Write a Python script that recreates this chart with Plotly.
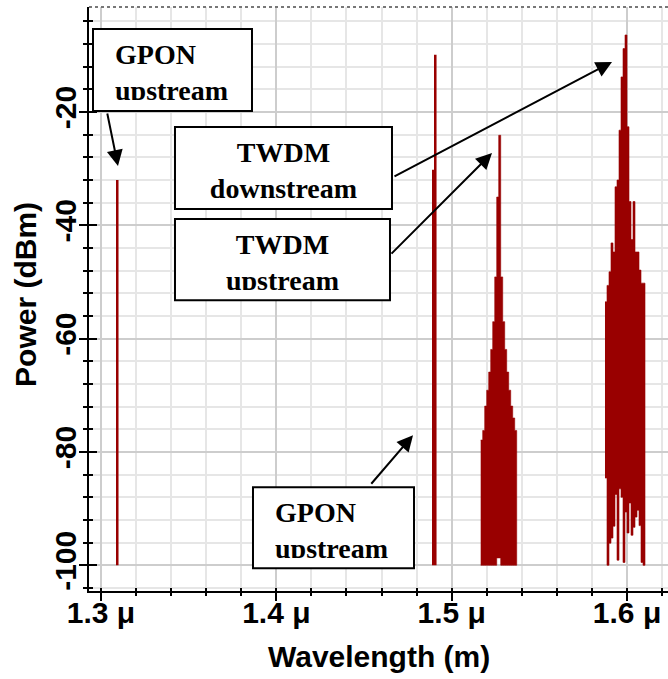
import numpy as np
import plotly.graph_objects as go

# ---------------- data (wavelength in micrometres, power in dBm) ----------------
# narrow single lines (GPON upstream 1.31, GPON downstream pair near 1.49)
line_wl = [1.30952, 1.48945, 1.49088]
line_peak = [-32.0, -30.2, -9.9]
line_floor = [-100.0, -100.0, -100.0]

# TWDM upstream band (~1.527 um)
up_wl = [1.51711, 1.51825, 1.51939, 1.52053, 1.52167, 1.52281, 1.52396, 1.52510, 1.52624,
         1.52738, 1.52852, 1.52966, 1.53080, 1.53194, 1.53308, 1.53422, 1.53536, 1.53650]
up_peak = [-77.9, -76.2, -71.9, -69.1, -65.9, -61.9, -57.0, -49.1, -35.0,
           -24.1, -49.1, -57.0, -61.9, -65.9, -69.1, -71.9, -74.0, -76.2]
up_floor = [-100.0, -100.0, -100.0, -100.0, -100.0, -100.0, -100.0, -100.0, -98.7,
            -98.7, -100.0, -100.0, -100.0, -100.0, -100.0, -100.0, -100.0, -100.0]

# TWDM downstream band (~1.6 um)
down_wl = [1.58799, 1.58913, 1.59027, 1.59141, 1.59255, 1.59370, 1.59484, 1.59598, 1.59712, 1.59826,
           1.59940, 1.60054, 1.60168, 1.60282, 1.60396, 1.60510, 1.60625, 1.60739, 1.60853, 1.60967]
down_peak = [-53.5, -50.6, -48.2, -43.1, -44.7, -33.2, -32.0, -23.2, -13.8, -8.8,
             -6.4, -22.6, -35.8, -42.5, -35.8, -44.7, -44.7, -47.9, -50.2, -50.2]
down_floor = [-84.6, -100.0, -96.1, -95.2, -93.1, -87.5, -99.1, -86.5, -88.0, -99.5,
              -90.6, -94.3, -89.0, -94.7, -93.3, -91.5, -90.3, -93.0, -99.5, -100.0]

x_tickvals = [1.3, 1.4, 1.5, 1.6]
x_ticktext = ["1.3 μ", "1.4 μ", "1.5 μ", "1.6 μ"]
y_tickvals = [-100, -80, -60, -40, -20]
y_ticktext = ["-100", "-80", "-60", "-40", "-20"]

labels = ["GPON<br>upstream", "TWDM<br>downstream", "TWDM<br>upstream", "GPON<br>upstream"]

# ---------------- styling ----------------
RED = "#990000"
AX_FONT = dict(family="Liberation Sans, Arial, sans-serif", size=30, color="black", weight="bold")
BOX_FONT = dict(family="Liberation Serif, Times New Roman, serif", size=28, color="black", weight="bold")
XR = [1.29316, 1.62335]
YR = [-104.54, -1.46]
BIN = 0.0011406  # spectral bin width of the analyser trace

fig = go.Figure()

# single narrow lines as bars
lp = np.array(line_peak)
lf = np.array(line_floor)
fig.add_trace(go.Bar(x=line_wl, y=lp - lf, base=lf, width=0.00095,
                     marker=dict(color=RED, line=dict(width=0)),
                     showlegend=False, hoverinfo="skip"))


def add_band(wl, peak, floor):
    """Filled step outline of a dense spectral band (top envelope, then floor back)."""
    wl = np.array(wl)
    xs, ys = [], []
    for c, p in zip(wl, peak):
        xs += [c - BIN / 2, c + BIN / 2]
        ys += [p, p]
    for c, f in zip(wl[::-1], floor[::-1]):
        xs += [c + BIN / 2, c - BIN / 2]
        ys += [f, f]
    fig.add_trace(go.Scatter(x=xs, y=ys, mode="lines", fill="toself", fillcolor=RED,
                             line=dict(color=RED, width=0.6, simplify=False), showlegend=False,
                             hoverinfo="skip"))


add_band(up_wl, up_peak, up_floor)
add_band(down_wl, down_peak, down_floor)

# empty trace on overlay axes (gives the tick marks that cross the axis lines)
fig.add_trace(go.Scatter(x=[], y=[], xaxis="x2", yaxis="y2", showlegend=False))

grid_minor = "#e6e6e6"
grid_major = "#cdcdcd"

fig.update_layout(
    width=668, height=679, autosize=False,
    margin=dict(l=89, r=0, t=7, b=88, pad=0),
    paper_bgcolor="white", plot_bgcolor="white",
    barmode="overlay",
    showlegend=False,
    xaxis=dict(range=XR, tickvals=x_tickvals, ticktext=x_ticktext, tickfont=AX_FONT,
               automargin=False, ticklabelstandoff=-14,
               ticks="outside", ticklen=8, tickwidth=2, tickcolor="black",
               showline=True, linecolor="black", linewidth=2,
               showgrid=True, gridcolor=grid_major, gridwidth=2, zeroline=False,
               minor=dict(tick0=1.3, dtick=0.02, ticks="outside", ticklen=3, tickwidth=2,
                          tickcolor="black", showgrid=True, gridcolor=grid_minor, gridwidth=2)),
    yaxis=dict(range=YR, tickvals=y_tickvals, ticktext=y_ticktext, tickfont=AX_FONT,
               tickangle=-90, automargin=False, ticklabelstandoff=-9,
               ticks="outside", ticklen=8, tickwidth=2, tickcolor="black",
               showline=True, linecolor="black", linewidth=2,
               showgrid=True, gridcolor=grid_major, gridwidth=2, zeroline=False,
               minor=dict(tick0=-100, dtick=4, ticks="outside", ticklen=4, tickwidth=2,
                          tickcolor="black", showgrid=True, gridcolor=grid_minor, gridwidth=2)),
    xaxis2=dict(range=XR, overlaying="x", anchor="y2", side="bottom", automargin=False,
                tickvals=x_tickvals, showticklabels=False, ticks="inside", ticklen=3,
                tickwidth=2, tickcolor="black", showgrid=False, zeroline=False, showline=False,
                minor=dict(tick0=1.3, dtick=0.02, ticks="inside", ticklen=3, tickwidth=2,
                           tickcolor="black", showgrid=False)),
    yaxis2=dict(range=YR, overlaying="y", anchor="x2", side="left", automargin=False,
                tickvals=y_tickvals, showticklabels=False, ticks="inside", ticklen=8,
                tickwidth=2, tickcolor="black", showgrid=False, zeroline=False, showline=False,
                minor=dict(tick0=-100, dtick=4, ticks="inside", ticklen=4, tickwidth=2,
                           tickcolor="black", showgrid=False)),
)

# axis titles placed as paper annotations
fig.add_annotation(text="Power (dBm)", xref="paper", yref="paper", x=-0.1088, y=0.507,
                   xanchor="center", yanchor="middle", textangle=-90, showarrow=False,
                   font=AX_FONT)
fig.add_annotation(text="Wavelength (m)", xref="paper", yref="paper", x=0.5, y=-0.113,
                   xanchor="center", yanchor="middle", showarrow=False, font=AX_FONT)

# dotted top frame
fig.add_shape(type="line", xref="paper", yref="paper", x0=0, x1=1, y0=1, y1=1,
              line=dict(color="#777777", width=2, dash="dot"), layer="above")

# label boxes (data coordinates)
boxes = [
    (1.29544, 1.38611, -5.34, -19.82),
    (1.34220, 1.46595, -22.65, -37.13),
    (1.34220, 1.46481, -38.90, -53.20),
    (1.38668, 1.47850, -86.23, -100.53),
]
for (x0, x1, y0, y1) in boxes:
    fig.add_shape(type="rect", xref="x", yref="y", x0=x0, x1=x1, y0=y0, y1=y1,
                  line=dict(color="black", width=2), fillcolor="white", layer="above")

# label texts (clipped at the bottom like the original call-outs)
texts = [
    dict(x=1.30798, y=-7.1, xanchor="left", align="left", width=134, height=61),
    dict(x=1.40408, y=-24.4, xanchor="center", align="center", width=205, height=66),
    dict(x=1.40351, y=-40.7, xanchor="center", align="center", width=205, height=61),
    dict(x=1.39923, y=-88.0, xanchor="left", align="left", width=136, height=61),
]
for lab, t in zip(labels, texts):
    fig.add_annotation(text=lab, xref="x", yref="y", x=t["x"], y=t["y"],
                       xanchor=t["xanchor"], yanchor="top", align=t["align"], valign="top",
                       width=t["width"], height=t["height"], showarrow=False,
                       font=BOX_FONT, borderpad=0, borderwidth=0)

# arrows: (head_x, head_y, tail_x, tail_y)
arrows = [
    (1.30970, -29.54, 1.30342, -20.0),
    (1.59142, -11.17, 1.46652, -31.48),
    (1.52298, -27.24, 1.46481, -45.25),
    (1.47793, -77.04, 1.45341, -85.87),
]
for (hx, hy, tx, ty) in arrows:
    fig.add_annotation(text="", x=hx, y=hy, ax=tx, ay=ty, xref="x", yref="y",
                       axref="x", ayref="y", showarrow=True, arrowhead=2,
                       arrowsize=1.6, arrowwidth=2, arrowcolor="black", standoff=0)

fig.write_html("out.html", config={"displayModeBar": False},
               post_script="document.body.style.margin='0';document.body.style.padding='0';")
